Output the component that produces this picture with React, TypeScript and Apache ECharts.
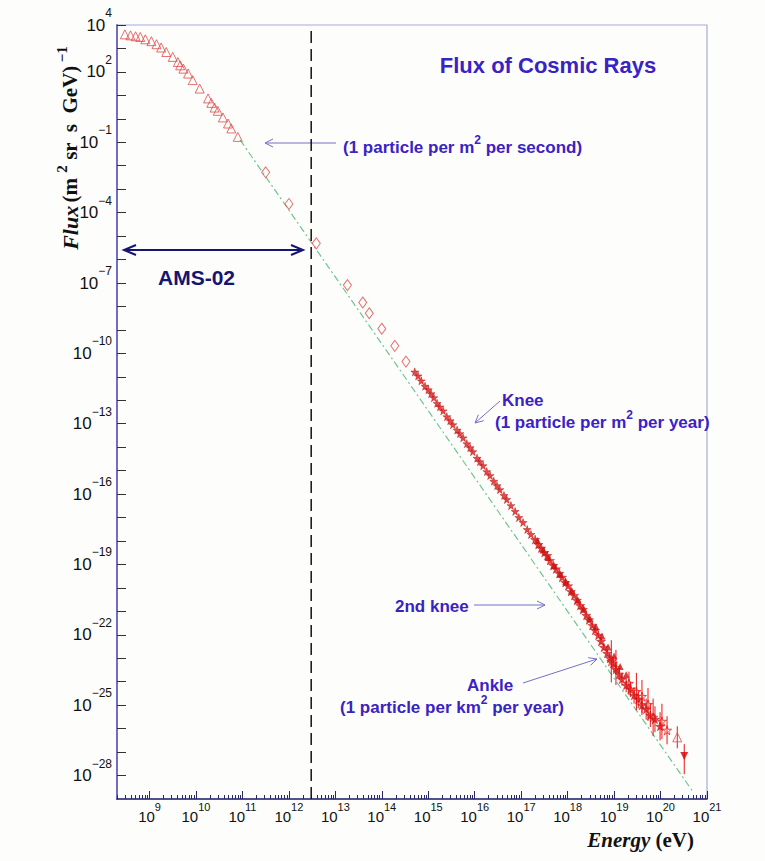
import React, { useEffect, useRef } from 'react';
import * as echarts from 'echarts';

// ---- axis ranges (log10 units) and tick labels ----
const energyRange = [8.3, 21];
const fluxRange = [-29, 4];
const energyLabelExps = [9, 10, 11, 12, 13, 14, 15, 16, 17, 18, 19, 20, 21];
const fluxLabelExps = [4, 2, -1, -4, -7, -10, -13, -16, -19, -22, -25, -28];

// ---- data (log10 E [eV], log10 flux) ----
const lowE = [8.47, 8.59, 8.70, 8.80, 8.91, 9.04, 9.15, 9.25, 9.36, 9.50, 9.61, 9.66, 9.73, 9.83, 9.93, 10.08, 10.26, 10.33, 10.40, 10.47, 10.58, 10.69, 10.76, 10.90];
const lowF = [3.60, 3.56, 3.52, 3.49, 3.39, 3.31, 3.18, 3.04, 2.85, 2.64, 2.42, 2.28, 2.14, 1.93, 1.65, 1.29, 0.87, 0.68, 0.48, 0.34, 0.06, -0.20, -0.41, -0.77];

const midE = [11.50, 12.00, 12.59, 13.26, 13.59, 13.73, 14.00, 14.28, 14.52];
const midF = [-2.28, -3.63, -5.31, -7.09, -7.83, -8.29, -8.95, -9.68, -10.35];

const kneeE = [14.71, 14.78, 14.85, 14.93, 15.00, 15.06, 15.12, 15.19, 15.25, 15.32, 15.40, 15.47, 15.53, 15.62, 15.68, 15.75, 15.83, 15.90, 15.96, 16.05, 16.11, 16.18, 16.26, 16.33, 16.41, 16.48, 16.54, 16.63, 16.69, 16.78, 16.87, 16.95, 17.04, 17.13, 17.21];
const kneeF = [-10.79, -10.96, -11.17, -11.40, -11.55, -11.72, -11.89, -12.13, -12.28, -12.45, -12.70, -12.87, -13.04, -13.27, -13.42, -13.60, -13.85, -14.02, -14.19, -14.47, -14.62, -14.79, -15.04, -15.21, -15.45, -15.64, -15.81, -16.06, -16.23, -16.49, -16.74, -17.00, -17.21, -17.51, -17.72];

const ankleE = [17.30, 17.37, 17.43, 17.50, 17.56, 17.62, 17.69, 17.75, 17.82, 17.88, 17.95, 18.01, 18.07, 18.14, 18.20, 18.27, 18.33, 18.40, 18.46, 18.53, 18.59, 18.66, 18.72, 18.78, 18.85, 18.91, 18.98, 19.04, 19.11, 19.17, 19.26, 19.35, 19.43, 19.52, 19.60, 19.69, 19.78, 19.88, 19.99];
const ankleF = [-17.94, -18.15, -18.30, -18.49, -18.62, -18.83, -19.04, -19.19, -19.38, -19.55, -19.77, -19.91, -20.15, -20.32, -20.53, -20.75, -20.92, -21.17, -21.36, -21.60, -21.81, -22.02, -22.28, -22.53, -22.79, -23.00, -23.21, -23.47, -23.68, -23.89, -24.15, -24.32, -24.58, -24.75, -25.00, -25.17, -25.43, -25.60, -25.90];
const ankleErr = [0.03, 0.03, 0.03, 0.03, 0.03, 0.03, 0.04, 0.04, 0.04, 0.04, 0.05, 0.05, 0.05, 0.06, 0.06, 0.07, 0.07, 0.08, 0.08, 0.09, 0.1, 0.1, 0.12, 0.13, 0.15, 0.17, 0.2, 0.22, 0.25, 0.28, 0.3, 0.33, 0.35, 0.38, 0.42, 0.45, 0.5, 0.55, 0.6];

const band2E = [17.35, 17.47, 17.58, 17.71, 17.84, 17.96, 18.09, 18.22, 18.35, 18.48, 18.61, 18.74, 18.87, 19.00, 19.13, 19.26];
const band2F = [-17.98, -18.38, -18.70, -19.05, -19.42, -19.72, -20.12, -20.52, -20.90, -21.30, -21.66, -22.05, -22.52, -22.90, -23.35, -23.70];

const uheE = [18.94, 19.04, 19.32, 19.48, 19.60, 19.73, 19.84, 20.03, 20.14];
const uheF = [-23.13, -23.39, -24.07, -24.42, -24.63, -24.97, -25.52, -25.69, -26.07];
const uheErr = [0.9, 0.75, 0.5, 0.8, 0.7, 0.7, 0.8, 0.75, 0.6];

const lastE = [20.36];
const lastF = [-26.37];
const lastErr = [0.47];

const limitE = [20.51];
const limitF = [-27.17];
const limitUp = [0.51];
const limitDown = [0.77];

const fitE = [10.95, 20.70];
const fitF = [-0.90, -28.70];

const amsLimitE = 12.48;

// ---- styles ----
const SANS = '"Liberation Sans", Arial, Helvetica, sans-serif';
const SERIF = '"Liberation Serif", "Times New Roman", serif';
const PURPLE = '#3a22c4';
const NAVY = '#151572';
const ARROW = '#7471c4';
const RED = '#e81616';
const RED_OPEN = '#e04a4a';
const STAR = 'path://M50,0 L61,35 L98,35 L68,57 L79,91 L50,70 L21,91 L32,57 L2,35 L39,35 Z';

const zip = (a: number[], b: number[]) => a.map((v, i) => [v, b[i]]);

const expText = (v: number) => {
  const n = Math.round(v);
  return n < 0 ? '\u2212' + -n : String(n);
};

function arrow(x1: number, y1: number, x2: number, y2: number, color: string, width: number, headLen: number, headHalf: number, both = false) {
  const dx = x2 - x1, dy = y2 - y1;
  const L = Math.hypot(dx, dy);
  const ux = dx / L, uy = dy / L;
  const px = -uy, py = ux;
  const head = (tx: number, ty: number, dx: number, dy: number) => ({
    type: 'polyline',
    silent: true,
    shape: {
      points: [
        [tx - dx * headLen + px * headHalf, ty - dy * headLen + py * headHalf],
        [tx, ty],
        [tx - dx * headLen - px * headHalf, ty - dy * headLen - py * headHalf],
      ],
    },
    style: { stroke: color, lineWidth: width, fill: 'none' },
  });
  const els: any[] = [
    { type: 'line', silent: true, shape: { x1, y1, x2, y2 }, style: { stroke: color, lineWidth: width } },
    head(x2, y2, ux, uy),
  ];
  if (both) els.push(head(x1, y1, -ux, -uy));
  return els;
}

const annRich = {
  a: { fontSize: 17, fontWeight: 'bold', fontFamily: SANS, fill: PURPLE, color: PURPLE, lineHeight: 26 },
  s: { fontSize: 12, fontWeight: 'bold', fontFamily: SANS, fill: PURPLE, color: PURPLE, lineHeight: 12, verticalAlign: 'top' },
};

function annText(x: number, y: number, text: string, align: string) {
  return {
    type: 'text',
    silent: true,
    x,
    y,
    style: {
      text,
      rich: annRich,
      fill: PURPLE,
      align,
      textAlign: align,
      verticalAlign: 'middle',
      textVerticalAlign: 'middle',
    },
  };
}

export default function App() {
  const ref = useRef<HTMLDivElement>(null);

  useEffect(() => {
    if (!ref.current) return;
    const chart = echarts.init(ref.current, null, { renderer: 'svg' });

    const minorX: number[] = [];
    for (let n = 8; n <= 20; n++) {
      for (let k = 2; k <= 9; k++) {
        const v = n + Math.log10(k);
        if (v > energyRange[0] && v < energyRange[1]) minorX.push(v);
      }
    }
    const yTicks: number[] = [];
    for (let n = fluxRange[0] + 1; n <= fluxRange[1]; n++) yTicks.push(n);

    const errData = [
      ...ankleE.map((e, i) => [e, ankleF[i], ankleErr[i], ankleErr[i]]),
      ...uheE.map((e, i) => [e, uheF[i], uheErr[i], uheErr[i]]),
      ...lastE.map((e, i) => [e, lastF[i], lastErr[i], lastErr[i]]),
      ...limitE.map((e, i) => [e, limitF[i], limitDown[i], limitUp[i]]),
    ];

    const graphic: any[] = [
      {
        type: 'text',
        silent: true,
        x: 548,
        y: 65,
        style: {
          text: 'Flux of Cosmic Rays',
          fontSize: 22,
          fontWeight: 'bold',
          fontFamily: SANS,
          fill: PURPLE,
          align: 'center',
          textAlign: 'center',
          verticalAlign: 'middle',
          textVerticalAlign: 'middle',
        },
      },
      annText(343, 147, '{a|(1 particle per m}{s|2}{a| per second)}', 'left'),
      ...arrow(336, 143, 265, 143, ARROW, 1, 8, 4),
      annText(502, 400, '{a|Knee}', 'left'),
      annText(495, 422, '{a|(1 particle per m}{s|2}{a| per year)}', 'left'),
      ...arrow(500, 401, 475, 423, ARROW, 1, 8, 4),
      annText(395, 606, '{a|2nd knee}', 'left'),
      ...arrow(474, 605, 545, 605, ARROW, 1, 8, 4),
      annText(467, 685, '{a|Ankle}', 'left'),
      annText(564, 707, '{a|(1 particle per km}{s|2}{a| per year)}', 'right'),
      ...arrow(523, 683, 597, 659, ARROW, 1, 8, 4),
      ...arrow(124, 250, 303, 250, NAVY, 2, 12, 5, true),
      {
        type: 'text',
        silent: true,
        x: 158,
        y: 277,
        style: {
          text: 'AMS-02',
          fontSize: 21,
          fontWeight: 'bold',
          fontFamily: SANS,
          fill: NAVY,
          align: 'left',
          textAlign: 'left',
          verticalAlign: 'middle',
          textVerticalAlign: 'middle',
        },
      },
      {
        type: 'text',
        silent: true,
        x: 70,
        y: 148,
        rotation: Math.PI / 2,
        style: {
          text: '{i|Flux} {r|(m }{s|2}{r| sr  s  GeV)} {s|\u22121}',
          rich: {
            i: { fontSize: 22, fontWeight: 'bold', fontStyle: 'italic', fontFamily: SERIF, fill: '#111', lineHeight: 32 },
            r: { fontSize: 21, fontWeight: 'bold', fontFamily: SERIF, fill: '#111', lineHeight: 32 },
            s: { fontSize: 15, fontWeight: 'bold', fontFamily: SERIF, fill: '#111', lineHeight: 14, verticalAlign: 'top' },
          },
          fill: '#111',
          align: 'center',
          textAlign: 'center',
          verticalAlign: 'middle',
          textVerticalAlign: 'middle',
        },
      },
      {
        type: 'text',
        silent: true,
        x: 694,
        y: 840,
        style: {
          text: '{i|Energy}{r| (eV)}',
          rich: {
            i: { fontSize: 21, fontWeight: 'bold', fontStyle: 'italic', fontFamily: SERIF, fill: '#111' },
            r: { fontSize: 21, fontWeight: 'bold', fontFamily: SERIF, fill: '#111' },
          },
          fill: '#111',
          align: 'right',
          textAlign: 'right',
          verticalAlign: 'middle',
          textVerticalAlign: 'middle',
        },
      },
    ];

    const option: any = {
      animation: false,
      backgroundColor: '#fdfefc',
      grid: {
        left: 117,
        top: 25,
        width: 590,
        height: 774,
        show: true,
        borderColor: '#a9a7dc',
        borderWidth: 1.2,
        backgroundColor: 'transparent',
      },
      xAxis: [
        {
          type: 'value',
          min: energyRange[0],
          max: energyRange[1],
          position: 'bottom',
          splitLine: { show: false },
          axisLine: { onZero: false, lineStyle: { color: '#27276e', width: 1.5 } },
          axisTick: { inside: true, length: 8, customValues: energyLabelExps, lineStyle: { color: '#27276e', width: 1 } },
          axisLabel: {
            customValues: energyLabelExps,
            interval: 0,
            margin: 2,
            formatter: (v: number) => `{b|10}{s|${expText(v)}}`,
            rich: {
              b: { fontSize: 15, lineHeight: 30, fontFamily: SANS, color: '#111' },
              s: { fontSize: 11, lineHeight: 14, fontFamily: SANS, color: '#111', verticalAlign: 'top' },
            },
          },
        },
        {
          type: 'value',
          min: energyRange[0],
          max: energyRange[1],
          position: 'bottom',
          splitLine: { show: false },
          axisLine: { show: false, onZero: false },
          axisLabel: { show: false },
          axisTick: { show: true, inside: true, length: 4, customValues: minorX, lineStyle: { color: '#27276e', width: 1 } },
        },
      ],
      yAxis: [
        {
          type: 'value',
          min: fluxRange[0],
          max: fluxRange[1],
          splitLine: { show: false },
          axisLine: { onZero: false, lineStyle: { color: '#716fc2', width: 2 } },
          axisTick: { inside: true, length: 9, customValues: yTicks, lineStyle: { color: '#333', width: 1 } },
          axisLabel: {
            customValues: fluxLabelExps,
            interval: 0,
            margin: 5,
            formatter: (v: number) => `{b|10}{s|${expText(v)}}`,
            rich: {
              b: { fontSize: 17, lineHeight: 36, fontFamily: SANS, color: '#111' },
              s: { fontSize: 12, lineHeight: 12, fontFamily: SANS, color: '#111', verticalAlign: 'top' },
            },
          },
        },
      ],
      series: [
        {
          name: 'fit',
          type: 'line',
          data: zip(fitE, fitF),
          showSymbol: false,
          symbol: 'none',
          lineStyle: { color: '#72c495', width: 1.2, type: [7, 3, 2, 3] },
          z: 1,
          silent: true,
        },
        {
          name: 'AMS-02 limit',
          type: 'line',
          data: [[amsLimitE, fluxRange[0]], [amsLimitE, fluxRange[1]]],
          showSymbol: false,
          symbol: 'none',
          lineStyle: { color: '#111', width: 1.5, type: [12, 6] },
          z: 1,
          silent: true,
        },
        {
          name: 'low',
          type: 'scatter',
          data: zip(lowE, lowF),
          symbol: 'triangle',
          symbolSize: 9,
          itemStyle: { color: 'rgba(255,255,255,0)', borderColor: RED_OPEN, borderWidth: 1 },
          z: 3,
        },
        {
          name: 'mid',
          type: 'scatter',
          data: zip(midE, midF),
          symbol: 'diamond',
          symbolSize: [8, 11],
          itemStyle: { color: 'rgba(255,255,255,0)', borderColor: RED_OPEN, borderWidth: 1 },
          z: 3,
        },
        {
          name: 'errors',
          type: 'custom',
          data: errData,
          encode: { x: 0, y: 1 },
          renderItem: (params: any, api: any) => {
            const x = api.value(0);
            const y = api.value(1);
            const lo = api.value(2);
            const hi = api.value(3);
            const p1 = api.coord([x, y - lo]);
            const p2 = api.coord([x, y + hi]);
            return {
              type: 'line',
              shape: { x1: p1[0], y1: p1[1], x2: p2[0], y2: p2[1] },
              style: { stroke: RED, lineWidth: 1 },
            };
          },
          z: 2,
          silent: true,
        },
        {
          name: 'knee',
          type: 'scatter',
          data: zip(kneeE, kneeF),
          symbol: STAR,
          symbolSize: 8,
          itemStyle: { color: RED, borderColor: '#a00000', borderWidth: 0.5 },
          z: 4,
        },
        {
          name: 'ankle',
          type: 'scatter',
          data: zip(ankleE, ankleF),
          symbol: STAR,
          symbolSize: 9,
          itemStyle: { color: RED, borderColor: '#a00000', borderWidth: 0.5 },
          z: 4,
        },
        {
          name: 'band2',
          type: 'scatter',
          data: zip(band2E, band2F),
          symbol: 'triangle',
          symbolSize: 7,
          itemStyle: { color: '#d01010' },
          z: 4,
        },
        {
          name: 'uhe',
          type: 'scatter',
          data: zip(uheE, uheF),
          symbol: STAR,
          symbolSize: 9,
          itemStyle: { color: 'rgba(255,255,255,0)', borderColor: RED, borderWidth: 1 },
          z: 4,
        },
        {
          name: 'last',
          type: 'scatter',
          data: zip(lastE, lastF),
          symbol: 'triangle',
          symbolSize: 9,
          itemStyle: { color: 'rgba(255,255,255,0)', borderColor: RED_OPEN, borderWidth: 1 },
          z: 4,
        },
        {
          name: 'limit',
          type: 'scatter',
          data: zip(limitE, limitF),
          symbol: 'triangle',
          symbolRotate: 180,
          symbolSize: 8,
          itemStyle: { color: '#d80000' },
          z: 4,
        },
      ],
      graphic,
    };

    chart.setOption(option);
    return () => chart.dispose();
  }, []);

  return <div ref={ref} style={{ position: 'fixed', left: 0, top: 0, width: 765, height: 861 }} />;
}
